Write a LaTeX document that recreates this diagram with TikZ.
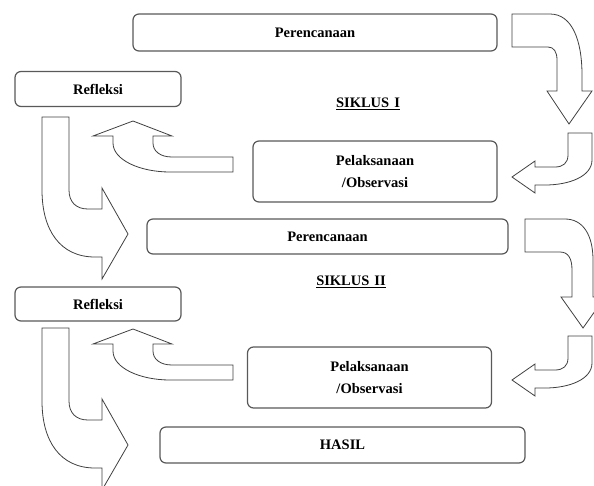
\documentclass[tikz,border=0pt]{standalone}
\usepackage{fontspec}
\setmainfont{Liberation Serif}
\usepackage{tikz}

\begin{document}
\begin{tikzpicture}[x=1pt,y=-1pt,
  box/.style={draw=black!65,line width=1.2pt,rounded corners=6pt,fill=white,inner sep=0pt,
    font=\fontsize{14.5}{22}\selectfont\bfseries,align=center},
  blok/.style={draw=black!75,line width=0.8pt,fill=white,line join=miter},
  judul/.style={font=\fontsize{14.5}{17}\selectfont\bfseries}]

  \useasboundingbox (0,0) rectangle (594,485);

  \node[box,minimum width=364pt,minimum height=37pt] (per1) at (315,32.5) {Perencanaan};
  \node[box,minimum width=166pt,minimum height=35pt] (ref1) at (98,89) {Refleksi};
  \node[judul] (sik1) at (368,104) {\underline{SIKLUS\hspace{5pt}I}};
  \node[box,minimum width=244pt,minimum height=61pt] (pel1) at (375,171.5) {Pelaksanaan\\/Observasi};
  \node[box,minimum width=361pt,minimum height=35pt] (per2) at (327.5,236.5) {Perencanaan};
  \node[judul] (sik2) at (351,282) {\underline{SIKLUS\hspace{5pt}II}};
  \node[box,minimum width=166pt,minimum height=34pt] (ref2) at (98,304) {Refleksi};
  \node[box,minimum width=244pt,minimum height=61pt] (pel2) at (369.5,377.5) {Pelaksanaan\\/Observasi};
  \node[box,minimum width=365pt,minimum height=36pt] (hasil) at (342.5,445) {HASIL};

  % panah dari pelaksanaan ke refleksi
  \foreach \dy in {0,208}
    \draw[blok,shift={(0,\dy)}] (233,157) -- (172,157) .. controls (160,157) and (153,151) .. (153,143)
      -- (153,136) -- (172,136) -- (133,121) -- (93,136) -- (113,136) -- (113,143)
      .. controls (113,160) and (140,172) .. (170,172) -- (233,172) -- cycle;

  % panah dari refleksi ke perencanaan / hasil
  \foreach \dy in {0,211}
    \draw[blok,shift={(0,\dy)}] (42,117) -- (69,117) -- (69,190) .. controls (69,202) and (76,209) .. (88,209)
      -- (102,209) -- (102,188) -- (128,234) -- (102,279) -- (102,257) -- (95,257)
      .. controls (60,257) and (42,230) .. (42,190) -- cycle;

  % panah kembali ke pelaksanaan
  \foreach \dy in {0,203}
    \draw[blok,shift={(0,\dy)}] (568,133) -- (592,133) -- (592,160) .. controls (592,176) and (570,185) .. (545,185)
      -- (535,185) -- (535,193) -- (512,177) -- (535,161) -- (535,167) -- (555,167)
      .. controls (563,167) and (568,163) .. (568,155) -- cycle;

  % panah dari perencanaan ke bawah
  \draw[blok] (512,14) -- (550,14) .. controls (572,14) and (582,40) .. (582,75) -- (582,91)
    -- (592,91) -- (569,124) -- (547,91) -- (557,91) -- (557,60)
    .. controls (557,52) and (554,47) .. (548,47) -- (512,47) -- cycle;
  \draw[blok] (525,219) -- (565,219) .. controls (583,219) and (593,235) .. (593,260) -- (593,297)
    -- (605,297) -- (583,328) -- (561,297) -- (572,297) -- (572,270)
    .. controls (572,258) and (568,252) .. (560,252) -- (525,252) -- cycle;

\end{tikzpicture}
\end{document}
